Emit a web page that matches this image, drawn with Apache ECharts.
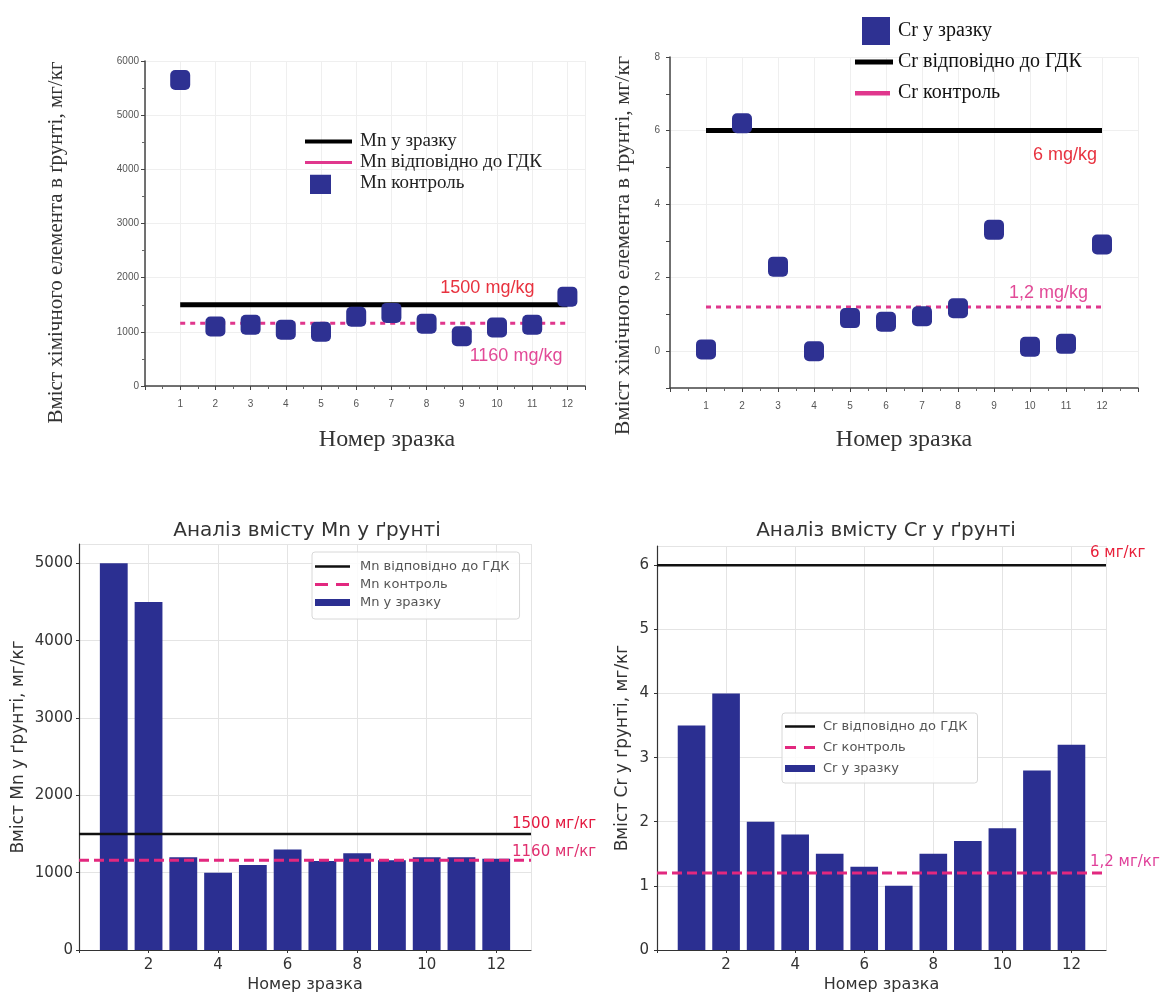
<!DOCTYPE html>
<html><head><meta charset="utf-8">
<script src="https://cdn.jsdelivr.net/npm/echarts@6/dist/echarts.min.js"></script>
<style>html,body{margin:0;padding:0;background:#fff}#c{width:1163px;height:994px}</style>
</head><body><div id="c"></div>
<script>
// ---- data ----
const samples = [1,2,3,4,5,6,7,8,9,10,11,12];
const mnScatter = [5650,1100,1130,1040,1000,1280,1350,1150,920,1080,1130,1650];
const crScatter = [0.05,6.2,2.3,0.0,0.9,0.8,0.95,1.17,3.3,0.12,0.2,2.9];
const mnBars = [5000,4500,1200,1000,1100,1300,1150,1250,1160,1200,1200,1180];
const crBars = [3.5,4.0,2.0,1.8,1.5,1.3,1.0,1.5,1.7,1.9,2.8,3.2];
const mnGdk = 1500, mnControl = 1160;
const crGdk = 6, crControl = 1.2;
const crGridTicks = [0,2,4,6,8];
const thrLabelsTop = ['1500 mg/kg','1160 mg/kg','6 mg/kg','1,2 mg/kg'];
const thrLabelsBottom = ['1500 мг/кг','1160 мг/кг','6 мг/кг','1,2 мг/кг'];
const legendTL = ['Mn у зразку','Mn відповідно до ГДК','Mn контроль'];
const legendTR = ['Cr у зразку','Cr відповідно до ГДК','Cr контроль'];
const legendBL = ['Mn відповідно до ГДК','Mn контроль','Mn у зразку'];
const legendBR = ['Cr відповідно до ГДК','Cr контроль','Cr у зразку'];
const titles = ['Аналіз вмісту Mn у ґрунті','Аналіз вмісту Cr у ґрунті'];
const yTitleTop = 'Вміст хімічного елемента в ґрунті, мг/кг';
const xTitle = 'Номер зразка';
const yTitleMn = 'Вміст Mn у ґрунті, мг/кг';
const yTitleCr = 'Вміст Cr у ґрунті, мг/кг';

const names = {
  tl0: legendTL[0], tl1: legendTL[1], tl2: legendTL[2],
  tr0: legendTR[0], tr1: legendTR[1], tr2: legendTR[2],
  bl0: legendBL[0], bl1: legendBL[1], bl2: legendBL[2],
  br0: legendBR[0], br1: legendBR[1], br2: legendBR[2]
};
const fmt = n => names[n] || n;
const pairs = (xs, ys) => xs.map((x, i) => [x, ys[i]]);

const SERIF = 'Liberation Serif, Times New Roman, serif';
const SANS = 'Liberation Sans, Arial, sans-serif';
const DJ = 'DejaVu Sans, sans-serif';
const BLUE = '#2e3192';
const BAR = '#2b2f91';
const BLACK = '#000';
const MAG = '#e0378d';
const MAG2 = '#e2287f';

// legend icon: rectangles [x0,y0,x1,y1] drawn inside a w x h box (box corners anchor the scale)
const icon = (w, h, rects) => {
  let p = 'path://M0,0L0,0Z M' + w + ',' + h + 'L' + w + ',' + h + 'Z';
  rects.forEach(r => {
    p += ' M' + r[0] + ',' + r[1] + 'L' + r[2] + ',' + r[1] + 'L' + r[2] + ',' + r[3] + 'L' + r[0] + ',' + r[3] + 'Z';
  });
  return p;
};
const plain = v => String(v);
const hideMax = (maxV) => (v => (v === 0 || v >= maxV) ? '' : String(v));

const topAxisLine = {show:true, onZero:false, lineStyle:{color:'#444', width:1.5}};
const topTick = {show:true, length:4, lineStyle:{color:'#444'}};
const topMinor = {show:true, splitNumber:2, length:3, lineStyle:{color:'#666'}};
const topSplit = {show:true, lineStyle:{color:'#efefef'}};
const topLabel = {fontSize:10, color:'#555', fontFamily:SANS, showMaxLabel:false};

const botAxisLine = {show:true, onZero:false, lineStyle:{color:'#333', width:1.2}};
const botTick = {show:true, length:3, lineStyle:{color:'#333'}};
const botSplit = {show:true, lineStyle:{color:'#e4e4e4'}};
const botLabel = {fontSize:15, color:'#333', fontFamily:DJ};

const option = {
  animation: false,
  backgroundColor: '#fff',
  title: [
    {text: titles[0], left: 302, top: 516, textAlign: 'center',
     textStyle:{fontFamily:DJ, fontSize:20, fontWeight:'normal', color:'#333'}},
    {text: titles[1], left: 881, top: 516, textAlign: 'center',
     textStyle:{fontFamily:DJ, fontSize:20, fontWeight:'normal', color:'#333'}}
  ],
  grid: [
    {left:145, top:61, width:440, height:325},
    {left:670, top:57, width:468, height:331},
    {left:79, top:544, width:452, height:406},
    {left:657, top:546, width:449, height:404}
  ],
  legend: [
    {orient:'vertical', left:300, top:131, itemWidth:55, itemHeight:21, itemGap:0, padding:0,
     formatter: fmt, selectedMode:false, symbolKeepAspect:false,
     textStyle:{fontFamily:SERIF, fontSize:19, color:'#222'},
     data:[{name:'tl0', icon: icon(55,21,[[5,8.5,52,12.5]]), itemStyle:{color:BLACK, borderWidth:0}},
           {name:'tl1', icon: icon(55,21,[[5,9,52,12]]), itemStyle:{color:MAG, borderWidth:0}},
           {name:'tl2', icon: icon(55,21,[[10,2,31,23]]), itemStyle:{color:BLUE, borderWidth:0}}]},
    {orient:'vertical', left:855, top:16, itemWidth:38, itemHeight:30, itemGap:1, padding:0,
     formatter: fmt, selectedMode:false, symbolKeepAspect:false,
     textStyle:{fontFamily:SERIF, fontSize:20, color:'#111'},
     data:[{name:'tr0', icon: icon(38,30,[[7,1,35,29]]), itemStyle:{color:BLUE, borderWidth:0}},
           {name:'tr1', icon: icon(38,30,[[0,12.5,38,17.5]]), itemStyle:{color:BLACK, borderWidth:0}},
           {name:'tr2', icon: icon(38,30,[[0,13,35,17.5]]), itemStyle:{color:MAG, borderWidth:0}}]},
    {orient:'vertical', left:312, top:552, itemWidth:40, itemHeight:10, itemGap:5,
     padding:[8,10,10,3], borderColor:'#d8d8d8', borderWidth:1, borderRadius:3,
     backgroundColor:'rgba(255,255,255,0.85)',
     formatter: fmt, selectedMode:false, symbolKeepAspect:false,
     textStyle:{fontFamily:DJ, fontSize:13, color:'#555'},
     data:[{name:'bl0', icon: icon(40,10,[[0,3.75,35,6.25]]), itemStyle:{color:'#111', borderWidth:0}},
           {name:'bl1', icon: icon(40,10,[[0,3.5,13,6.5],[21,3.5,34,6.5]]), itemStyle:{color:MAG2, borderWidth:0}},
           {name:'bl2', icon: icon(40,10,[[0,1.5,35,8.5]]), itemStyle:{color:BAR, borderWidth:0}}]},
    {orient:'vertical', left:782, top:713, itemWidth:33, itemHeight:10, itemGap:8,
     padding:[7,10,8,3], borderColor:'#d8d8d8', borderWidth:1, borderRadius:3,
     backgroundColor:'rgba(255,255,255,0.85)',
     formatter: fmt, selectedMode:false, symbolKeepAspect:false,
     textStyle:{fontFamily:DJ, fontSize:13, color:'#555'},
     data:[{name:'br0', icon: icon(33,10,[[0,3.75,30,6.25]]), itemStyle:{color:'#111', borderWidth:0}},
           {name:'br1', icon: icon(33,10,[[0,3.5,11,6.5],[19,3.5,30,6.5]]), itemStyle:{color:MAG2, borderWidth:0}},
           {name:'br2', icon: icon(33,10,[[0,1.5,30,8.5]]), itemStyle:{color:BAR, borderWidth:0}}]}
  ],
  xAxis: [
    {gridIndex:0, type:'value', min:0, max:12.5, interval:1,
     axisLine:topAxisLine, axisTick:topTick, minorTick:topMinor, splitLine:topSplit,
     axisLabel:Object.assign({margin:13, formatter: hideMax(12.5)}, topLabel),
     name:xTitle, nameLocation:'middle', nameGap:42,
     nameTextStyle:{fontFamily:SERIF, fontSize:24, color:'#333', padding:[0,0,0,44]}},
    {gridIndex:1, type:'value', min:0, max:13, interval:1,
     axisLine:topAxisLine, axisTick:topTick, minorTick:topMinor, splitLine:topSplit,
     axisLabel:Object.assign({margin:13, formatter: hideMax(13)}, topLabel),
     name:xTitle, nameLocation:'middle', nameGap:40,
     nameTextStyle:{fontFamily:SERIF, fontSize:24, color:'#333'}},
    {gridIndex:2, type:'value', min:0, max:13, interval:2,
     axisLine:botAxisLine, axisTick:botTick, splitLine:botSplit,
     axisLabel:Object.assign({margin:8, formatter: hideMax(13), showMaxLabel:false}, botLabel),
     name:xTitle, nameLocation:'middle', nameGap:27,
     nameTextStyle:{fontFamily:DJ, fontSize:16, color:'#333'}},
    {gridIndex:3, type:'value', min:0, max:13, interval:2,
     axisLine:botAxisLine, axisTick:botTick, splitLine:botSplit,
     axisLabel:Object.assign({margin:8, formatter: hideMax(13), showMaxLabel:false}, botLabel),
     name:xTitle, nameLocation:'middle', nameGap:27,
     nameTextStyle:{fontFamily:DJ, fontSize:16, color:'#333'}}
  ],
  yAxis: [
    {gridIndex:0, type:'value', min:0, max:6000, interval:1000,
     axisLine:topAxisLine, axisTick:topTick, minorTick:topMinor, splitLine:topSplit,
     axisLabel:Object.assign({margin:6, formatter: plain}, topLabel, {showMaxLabel:true}),
     name:yTitleTop, nameLocation:'middle', nameGap:78,
     nameTextStyle:{fontFamily:SERIF, fontSize:21, color:'#333', padding:[0,38,0,0]}},
    {gridIndex:1, type:'value', min:-1, max:8, interval:1,
     axisLine:topAxisLine, axisTick:topTick, splitLine:{show:false},
     axisLabel:Object.assign({margin:10, formatter: v => crGridTicks.indexOf(v) >= 0 ? String(v) : ''}, topLabel, {showMaxLabel:true}),
     name:yTitleTop, nameLocation:'middle', nameGap:36,
     nameTextStyle:{fontFamily:SERIF, fontSize:22, color:'#333', padding:[0,46,0,0]}},
    {gridIndex:2, type:'value', min:0, max:5250, interval:1000,
     axisLine:botAxisLine, axisTick:botTick, splitLine:botSplit,
     axisLabel:Object.assign({margin:6, formatter: plain, showMaxLabel:false}, botLabel),
     name:yTitleMn, nameLocation:'middle', nameGap:52,
     nameTextStyle:{fontFamily:DJ, fontSize:17, color:'#333'}},
    {gridIndex:3, type:'value', min:0, max:6.3, interval:1,
     axisLine:botAxisLine, axisTick:botTick, splitLine:botSplit,
     axisLabel:Object.assign({margin:8, formatter: plain, showMaxLabel:false}, botLabel),
     name:yTitleCr, nameLocation:'middle', nameGap:26,
     nameTextStyle:{fontFamily:DJ, fontSize:17, color:'#333'}}
  ],
  series: [
    // ---- top-left ----
    {name:'tl0', type:'line', xAxisIndex:0, yAxisIndex:0, symbol:'none', z:2,
     data:[[samples[0], mnGdk],[samples[11], mnGdk]],
     itemStyle:{color:BLACK}, lineStyle:{color:BLACK, width:5},
     markPoint:{symbol:'circle', symbolSize:0, silent:true,
       data:[{coord:[samples[11], mnGdk]}],
       label:{show:true, position:'left', formatter:thrLabelsTop[0], offset:[-28,-17],
              color:'#e8323f', fontSize:18, fontFamily:SANS}}},
    {name:'tl1', type:'line', xAxisIndex:0, yAxisIndex:0, symbol:'none', z:2,
     data:[[samples[0], mnControl],[samples[11], mnControl]],
     itemStyle:{color:MAG}, lineStyle:{color:MAG, width:3, type:[5,5]},
     markPoint:{symbol:'circle', symbolSize:0, silent:true,
       data:[{coord:[samples[11], mnControl]}],
       label:{show:true, position:'left', formatter:thrLabelsTop[1], offset:[0,33],
              color:'#e24a97', fontSize:18, fontFamily:SANS}}},
    {name:'tl2', type:'scatter', xAxisIndex:0, yAxisIndex:0, z:3,
     symbol:'roundRect', symbolSize:20, itemStyle:{color:BLUE, opacity:1},
     data: pairs(samples, mnScatter)},
    // ---- top-right ----
    {name:'crGrid', type:'line', xAxisIndex:1, yAxisIndex:1, z:0, data:[], silent:true,
     markLine:{silent:true, z:0, symbol:'none', label:{show:false},
       lineStyle:{color:'#efefef', type:'solid', width:1},
       data: crGridTicks.map(v => ({yAxis:v}))}},
    {name:'tr0', type:'scatter', xAxisIndex:1, yAxisIndex:1, z:3,
     symbol:'roundRect', symbolSize:20, itemStyle:{color:BLUE, opacity:1},
     data: pairs(samples, crScatter)},
    {name:'tr1', type:'line', xAxisIndex:1, yAxisIndex:1, symbol:'none', z:2,
     data:[[samples[0], crGdk],[samples[11], crGdk]],
     itemStyle:{color:BLACK}, lineStyle:{color:BLACK, width:5},
     markPoint:{symbol:'circle', symbolSize:0, silent:true,
       data:[{coord:[samples[11], crGdk]}],
       label:{show:true, position:'left', formatter:thrLabelsTop[2], offset:[0,24],
              color:'#e8323f', fontSize:18, fontFamily:SANS}}},
    {name:'tr2', type:'line', xAxisIndex:1, yAxisIndex:1, symbol:'none', z:2,
     data:[[samples[0], crControl],[samples[11], crControl]],
     itemStyle:{color:MAG}, lineStyle:{color:MAG, width:3, type:[5,5]},
     markPoint:{symbol:'circle', symbolSize:0, silent:true,
       data:[{coord:[samples[11], crControl]}],
       label:{show:true, position:'left', formatter:thrLabelsTop[3], offset:[-9,-14],
              color:'#e24a97', fontSize:18, fontFamily:SANS}}},
    // ---- bottom-left ----
    {name:'bl2', type:'bar', xAxisIndex:2, yAxisIndex:2, z:2, barWidth:'80%',
     itemStyle:{color:BAR}, data: pairs(samples, mnBars)},
    {name:'bl0', type:'line', xAxisIndex:2, yAxisIndex:2, symbol:'none', z:4,
     data:[[0, mnGdk],[13, mnGdk]],
     itemStyle:{color:'#111'}, lineStyle:{color:'#111', width:2.5},
     markPoint:{symbol:'circle', symbolSize:0, silent:true,
       data:[{coord:[13, mnGdk]}],
       label:{show:true, position:'right', formatter:thrLabelsBottom[0], offset:[-24,-10],
              color:'#e3173e', fontSize:15, fontFamily:DJ}}},
    {name:'bl1', type:'line', xAxisIndex:2, yAxisIndex:2, symbol:'none', z:4,
     data:[[0, mnControl],[13, mnControl]],
     itemStyle:{color:MAG2}, lineStyle:{color:MAG2, width:3, type:[10,5]},
     markPoint:{symbol:'circle', symbolSize:0, silent:true,
       data:[{coord:[13, mnControl]}],
       label:{show:true, position:'right', formatter:thrLabelsBottom[1], offset:[-24,-8],
              color:'#e0306f', fontSize:15, fontFamily:DJ}}},
    // ---- bottom-right ----
    {name:'br2', type:'bar', xAxisIndex:3, yAxisIndex:3, z:2, barWidth:'80%',
     itemStyle:{color:BAR}, data: pairs(samples, crBars)},
    {name:'br0', type:'line', xAxisIndex:3, yAxisIndex:3, symbol:'none', z:4,
     data:[[0, crGdk],[13, crGdk]],
     itemStyle:{color:'#111'}, lineStyle:{color:'#111', width:2.5},
     markPoint:{symbol:'circle', symbolSize:0, silent:true,
       data:[{coord:[13, crGdk]}],
       label:{show:true, position:'right', formatter:thrLabelsBottom[2], offset:[-21,-12],
              color:'#e8203a', fontSize:15, fontFamily:DJ}}},
    {name:'br1', type:'line', xAxisIndex:3, yAxisIndex:3, symbol:'none', z:4,
     data:[[0, crControl],[13, crControl]],
     itemStyle:{color:MAG2}, lineStyle:{color:MAG2, width:3, type:[10,5]},
     markPoint:{symbol:'circle', symbolSize:0, silent:true,
       data:[{coord:[13, crControl]}],
       label:{show:true, position:'right', formatter:thrLabelsBottom[3], offset:[-21,-11],
              color:'#e0409a', fontSize:15, fontFamily:DJ}}}
  ]
};
const chart = echarts.init(document.getElementById('c'), null, {renderer:'canvas'});
chart.setOption(option);
</script>
</body></html>
